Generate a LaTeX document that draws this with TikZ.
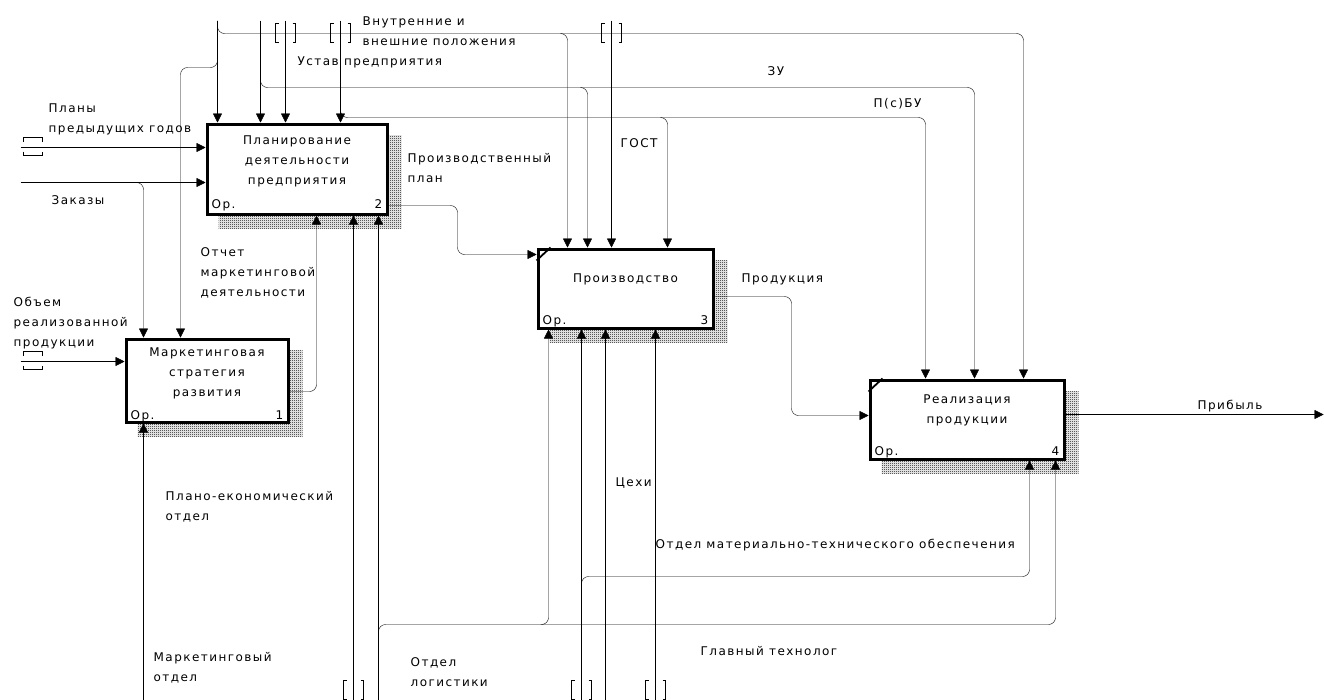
\documentclass[tikz,border=0pt]{standalone}
\usepackage{fontspec}
\setmainfont{DejaVu Sans}[LetterSpace=12]
\usetikzlibrary{arrows.meta,patterns}
\pgfdeclarelayer{bg}
\pgfsetlayers{bg,main}
\pgfdeclarepatternformonly{chk}{\pgfqpoint{0pt}{0pt}}{\pgfqpoint{2pt}{2pt}}{\pgfqpoint{2pt}{2pt}}{%
  \pgfpathrectangle{\pgfqpoint{0pt}{0pt}}{\pgfqpoint{1pt}{1pt}}%
  \pgfpathrectangle{\pgfqpoint{1pt}{1pt}}{\pgfqpoint{1pt}{1pt}}%
  \pgfusepath{fill}}
\newcommand\lblfont{\fontsize{12}{20}\selectfont}
\newcommand\tstrut{\rule{0pt}{9pt}}
\begin{document}
\begin{tikzpicture}[x=1pt,y=-1pt,line width=1.1pt,
  arr/.style={-{Triangle[length=9pt,width=9pt]}},
  conn/.style={rounded corners=7pt},
  box/.style={draw,line width=3pt,fill=white,inner sep=0pt},
  lbl/.style={anchor=north west,inner sep=0pt,align=left,font=\lblfont,execute at begin node=\tstrut},
  ttl/.style={anchor=north,inner sep=0pt,align=center,font=\lblfont,execute at begin node=\tstrut},
  num/.style={inner sep=0pt,font=\lblfont},
  corner/.style={line width=1.8pt},
  shade/.style={pattern=chk,pattern color=black},
  vtun/.pic={\draw[line width=1.1pt] (-7,0) -- (-10,0) -- (-10,19) -- (-7,19);
             \draw[line width=1.1pt] (7,0) -- (10,0) -- (10,19) -- (7,19);},
  htun/.pic={\draw[line width=1.1pt] (0,-6) -- (0,-10) -- (19,-10) -- (19,-6);
             \draw[line width=1.1pt] (0,4) -- (0,8) -- (19,8) -- (19,4);}]
\useasboundingbox (0,0) rectangle (1324,699);
\begin{scope}[shift={(0.5,0.5)}]

% boxes
\node[box,minimum width=180pt,minimum height=90pt] (b2) at (296.5,168.5) {};
\node[box,minimum width=162pt,minimum height=83pt] (b1) at (206.5,380) {};
\node[box,minimum width=175pt,minimum height=79pt] (b3) at (625,288) {};
\node[box,minimum width=194pt,minimum height=79pt] (b4) at (966.5,419) {};

\begin{pgfonlayer}{bg}
  \foreach \b in {b1,b2,b3,b4}
    \fill[shade] ([xshift=13pt,yshift=-13pt]\b.north west) rectangle ([xshift=13pt,yshift=-13pt]\b.south east);
\end{pgfonlayer}

\draw[corner] ([yshift=-13pt]b3.north west) -- ([xshift=14pt]b3.north west);
\draw[corner] ([yshift=-13pt]b4.north west) -- ([xshift=14pt]b4.north west);

% box texts
\node[ttl] (t2) at ([yshift=-13pt]b2.north) {Планирование\\деятельности\\предприятия};
\node[ttl] (t1) at ([yshift=-10pt]b1.north) {Маркетинговая\\стратегия\\развития};
\node[ttl] (t3) at ([yshift=-26pt]b3.north) {Производство};
\node[ttl] (t4) at ([yshift=-16pt]b4.north) {Реализация\\продукции};
\node[num,anchor=base west] (o2) at ([xshift=6pt,yshift=7pt]b2.south west) {Ор.};
\node[num,anchor=base east] (n2) at ([xshift=-6pt,yshift=7pt]b2.south east) {2};
\node[num,anchor=base west] (o1) at ([xshift=6pt,yshift=4pt]b1.south west) {Ор.};
\node[num,anchor=base east] (n1) at ([xshift=-6pt,yshift=4pt]b1.south east) {1};
\node[num,anchor=base west] (o3) at ([xshift=6pt,yshift=5pt]b3.south west) {Ор.};
\node[num,anchor=base east] (n3) at ([xshift=-6pt,yshift=5pt]b3.south east) {3};
\node[num,anchor=base west] (o4) at ([xshift=6pt,yshift=5pt]b4.south west) {Ор.};
\node[num,anchor=base east] (n4) at ([xshift=-6pt,yshift=5pt]b4.south east) {4};

% free ends
\coordinate (cA) at (217,20);
\coordinate (cB) at (260,20);
\coordinate (cC) at (285,20);
\coordinate (cD) at (340,20);
\coordinate (cE) at (611,20);
\coordinate (mF) at (143,699);
\coordinate (mG) at (353,699);
\coordinate (mH) at (378,699);
\coordinate (mI) at (581,699);
\coordinate (mJ) at (605,699);
\coordinate (mK) at (655,699);
\coordinate (iP) at (20,147);
\coordinate (iZ) at (20,182);
\coordinate (iO) at (20,361);
\coordinate (oP) at (1323,414);

% controls
\draw[arr] (cA) -- (cA |- b2.north);
\draw[conn,arr] (cA) |- (1023,33) -- (1023,0 |- b4.north);
\draw[conn,arr] (560,33) -| (567,0 |- b3.north);
\draw[conn,arr] (217,56) |- (180,67) -- (180,0 |- b1.north);
\draw[arr] (cB) -- (cB |- b2.north);
\draw[conn,arr] (260,78) |- (974,87) -- (974,0 |- b4.north);
\draw[conn,arr] (580,87) -| (587,0 |- b3.north);
\draw[arr] (cC) -- (cC |- b2.north);
\pic at (285,23) {vtun};
\draw[arr] (cD) -- (cD |- b2.north);
\pic at (340,23) {vtun};
\draw[conn,arr] (340,108) |- (925,117) -- (925,0 |- b4.north);
\draw[conn,arr] (660,117) -| (667,0 |- b3.north);
\draw[arr] (cE) -- (cE |- b3.north);
\pic at (611,23) {vtun};

% mechanisms
\draw[arr] (mF) -- (mF |- b1.south);
\draw[arr] (mG) -- (mG |- b2.south);
\pic at (353,680) {vtun};
\draw[arr] (mH) -- (mH |- b2.south);
\draw[conn,arr] (378,634) |- (1055,624) -- (1055,0 |- b4.south);
\draw[conn,arr] (540,624) -| (548,0 |- b3.south);
\draw[arr] (mI) -- (mI |- b3.south);
\pic at (581,680) {vtun};
\draw[conn,arr] (581,586) |- (1029,576) -- (1029,0 |- b4.south);
\draw[arr] (mJ) -- (mJ |- b3.south);
\draw[arr] (mK) -- (mK |- b3.south);
\pic at (655,680) {vtun};

% inputs / outputs
\draw[arr] (iP) -- (iP -| b2.west);
\pic at (23,147) {htun};
\draw[arr] (iZ) -- (iZ -| b2.west);
\draw[conn,arr] (136,182) -| (143,0 |- b1.north);
\draw[arr] (iO) -- (iO -| b1.west);
\pic at (23,361) {htun};
\draw[conn,arr] (b1.east |- 0,391) -| (316,0 |- b2.south);
\draw[conn,arr] (b2.east |- 0,205) -| (457,254) -- (b3.west |- 0,254);
\draw[conn,arr] (b3.east |- 0,296) -| (791,415) -- (b4.west |- 0,415);
\draw[arr] (b4.east |- oP) -- (oP);

% labels
\node[lbl] (l1) at (362,16) {Внутренние и\\внешние положения};
\node[lbl] (l2) at (297,56) {Устав предприятия};
\node[lbl] (l3) at (767,66) {ЗУ};
\node[lbl] (l4) at (873,98) {П(с)БУ};
\node[lbl] (l5) at (620,138) {ГОСТ};
\node[lbl] (l6) at (407,153) {Производственный\\план};
\node[lbl] (l7) at (741,273) {Продукция};
\node[lbl] (l8) at (1197,399) {Прибыль};
\node[lbl] (l9) at (48,103) {Планы\\предыдущих годов};
\node[lbl] (l10) at (51,195) {Заказы};
\node[lbl] (l11) at (13,296) {Объем\\реализованной\\продукции};
\node[lbl] (l12) at (200,247) {Отчет\\маркетинговой\\деятельности};
\node[lbl] (l13) at (165,491) {Плано-економический\\отдел};
\node[lbl] (l14) at (153,652) {Маркетинговый\\отдел};
\node[lbl] (l15) at (410,657) {Отдел\\логистики};
\node[lbl] (l16) at (615,477) {Цехи};
\node[lbl] (l17) at (655,538) {Отдел материально-технического обеспечения};
\node[lbl] (l18) at (700,646) {Главный технолог};
\end{scope}
\end{tikzpicture}
\end{document}
